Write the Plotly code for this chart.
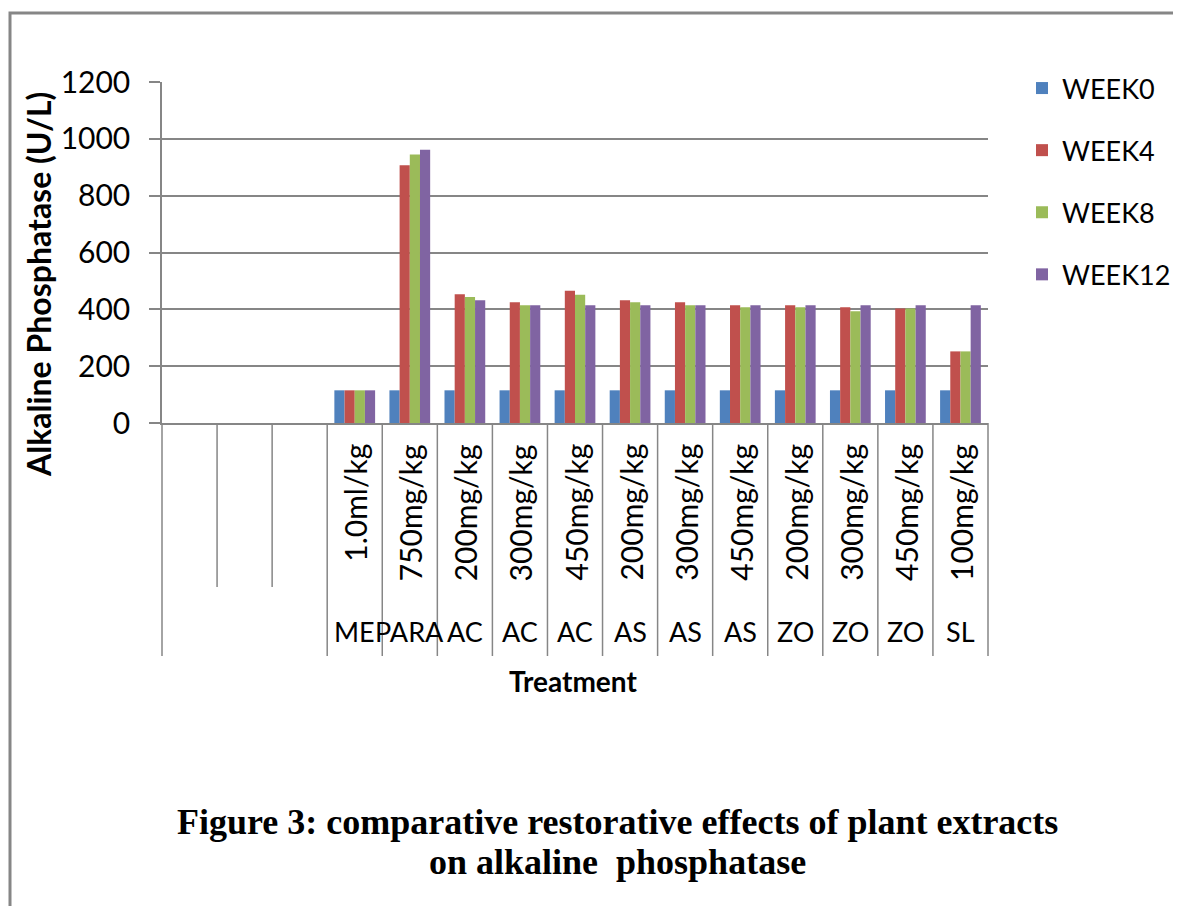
import plotly.graph_objects as go

# ---- data ----
groups = ["", "", "", "ME", "PARA", "AC", "AC", "AC", "AS", "AS", "AS", "ZO", "ZO", "ZO", "SL"]
doses = ["", "", "", "1.0ml/kg", "750mg/kg", "200mg/kg", "300mg/kg", "450mg/kg",
         "200mg/kg", "300mg/kg", "450mg/kg", "200mg/kg", "300mg/kg", "450mg/kg", "100mg/kg"]
week0 = [None, None, None, 115, 115, 115, 115, 115, 115, 115, 115, 115, 115, 115, 115]
week4 = [None, None, None, 115, 907, 453, 425, 465, 432, 425, 414, 414, 407, 403, 252]
week8 = [None, None, None, 115, 945, 443, 414, 451, 425, 414, 407, 407, 393, 403, 252]
week12 = [None, None, None, 115, 962, 432, 414, 414, 414, 414, 414, 414, 414, 414, 414]
series_names = ["WEEK0", "WEEK4", "WEEK8", "WEEK12"]
y_ticks = [0, 200, 400, 600, 800, 1000, 1200]
title_lines = ["Figure 3: comparative restorative effects of plant extracts",
               "on alkaline  phosphatase"]

colors = ["#4F81BD", "#C0504D", "#9BBB59", "#8064A2"]
FONT = "Lato"
GRAY = "#868686"

cat_ids = [f"{i}|{g}|{d}" for i, (g, d) in enumerate(zip(groups, doses))]
N = len(cat_ids)

# page body has an 8px margin; work in screen pixels and convert
OFF = 8
W, H = 1181, 906
PLOT_L, PLOT_R, PLOT_T, PLOT_B = 162, 988, 82, 423  # screen px
L = PLOT_L - OFF
T = PLOT_T - OFF
PW = PLOT_R - PLOT_L
PH = PLOT_B - PLOT_T
R = W - L - PW
B = H - T - PH


def sy(py):
    return (PLOT_B - py) / PH


def sx(px):
    return (px - PLOT_L) / PW


fig = go.Figure()
for name, vals, col in zip(series_names, [week0, week4, week8, week12], colors):
    fig.add_trace(go.Bar(x=cat_ids, y=vals, name=name, marker_color=col,
                         marker_line_width=0, legendgroup=name))

shapes = []
# category dividers below the axis
for b in range(N + 1):
    short = 0 < b < N and groups[b - 1] == "" and groups[b] == ""
    y_end = sy(587) if short else sy(656)
    shapes.append(dict(type="line", xref="x domain", yref="paper",
                       x0=b / N, x1=b / N, y0=0, y1=y_end,
                       line=dict(color=GRAY, width=1.5)))
# outer border
shapes.append(dict(type="rect", xref="paper", yref="paper",
                   x0=sx(10), x1=sx(1181 + 40), y0=sy(13), y1=sy(906 + 40),
                   line=dict(color=GRAY, width=3)))

annotations = []
for cid, g, d in zip(cat_ids, groups, doses):
    if d:
        annotations.append(dict(x=cid, xref="x", y=sy(442), yref="paper",
                                text=d, textangle=-90, showarrow=False,
                                xanchor="center", yanchor="top",
                                font=dict(family=FONT, size=30, color="black")))
    if g:
        annotations.append(dict(x=cid, xref="x", y=sy(631), yref="paper",
                                text=g, showarrow=False, xanchor="center", yanchor="middle",
                                font=dict(family=FONT, size=27, color="black")))

annotations.append(dict(x=sx(38), y=sy(285), xref="paper", yref="paper",
                        text="<b>Alkaline Phosphatase (U/L)</b>", textangle=-90, showarrow=False,
                        xanchor="center", yanchor="middle",
                        font=dict(family=FONT, size=32, color="black")))
annotations.append(dict(x=sx(573), y=sy(681), xref="paper", yref="paper",
                        text="<b>Treatment</b>", showarrow=False,
                        xanchor="center", yanchor="middle",
                        font=dict(family=FONT, size=28, color="black")))
for line, ycen in zip(title_lines, [822, 862]):
    annotations.append(dict(x=sx(617), y=sy(ycen), xref="paper", yref="paper",
                            text=f"<b>{line}</b>", showarrow=False,
                            xanchor="center", yanchor="middle",
                            font=dict(family="Liberation Serif", size=36, color="black")))

fig.update_layout(
    width=W, height=H,
    margin=dict(l=L, r=R, t=T, b=B, pad=0),
    plot_bgcolor="white", paper_bgcolor="white",
    barmode="group", bargap=0.26, bargroupgap=0,
    showlegend=True,
    legend=dict(x=sx(1022), y=sy(64), xanchor="left", yanchor="top",
                font=dict(family=FONT, size=27, color="black"),
                tracegroupgap=24, traceorder="grouped", bgcolor="rgba(0,0,0,0)"),
    shapes=shapes,
    annotations=annotations,
    xaxis=dict(type="category", categoryorder="array", categoryarray=cat_ids,
               range=[-0.5, N - 0.5], showticklabels=False, showgrid=False,
               showline=True, linecolor=GRAY, linewidth=1.5, ticks="", zeroline=False),
    yaxis=dict(range=[0, 1200], tickvals=y_ticks, ticktext=[str(v) for v in y_ticks],
               showgrid=True, gridcolor=GRAY, gridwidth=1.5,
               showline=True, linecolor=GRAY, linewidth=1.5,
               ticks="outside", ticklen=11, tickcolor=GRAY, tickwidth=1.5,
               ticklabelstandoff=13, zeroline=False,
               tickfont=dict(family=FONT, size=30, color="black")),
)

fig.write_html("out.html")
